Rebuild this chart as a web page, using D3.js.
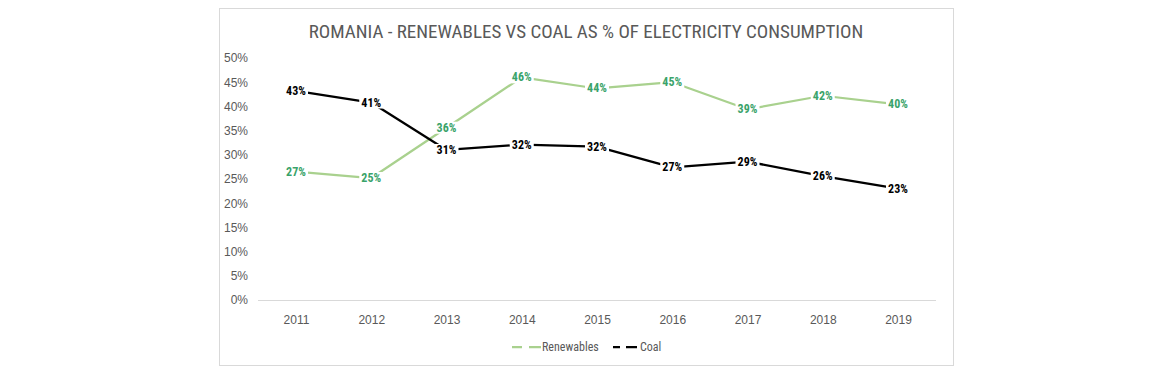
<!DOCTYPE html>
<html><head><meta charset="utf-8">
<script src="https://cdn.jsdelivr.net/npm/d3@7/dist/d3.min.js"></script>
<style>
html,body{margin:0;padding:0;background:#fff;}
svg{display:block;font-family:"Liberation Sans Narrow","Roboto Condensed","Arial Narrow","Liberation Sans",sans-serif;}
</style></head>
<body><svg id="c" width="1166" height="389"></svg>
<script>
const years = ["2011","2012","2013","2014","2015","2016","2017","2018","2019"];
const renewables = [26.5, 25.2, 35.6, 46.0, 43.7, 45.0, 39.4, 42.2, 40.4];
const coal = [43.2, 40.8, 31.0, 32.1, 31.7, 27.4, 28.6, 25.6, 23.0];
const yTicks = [0,5,10,15,20,25,30,35,40,45,50];
const title = "ROMANIA - RENEWABLES VS COAL AS % OF ELECTRICITY CONSUMPTION";
const seriesNames = ["Renewables","Coal"];

const svg = d3.select("#c");
const greenLine = "#A9D18E", greenText = "#3AA36A", gray = "#595959";

svg.append("rect").attr("x",219.5).attr("y",8.5).attr("width",734).attr("height",357)
  .attr("fill","#fff").attr("stroke","#d9d9d9");

svg.append("text").attr("x",586).attr("y",38).attr("text-anchor","middle")
  .attr("font-size",19).attr("fill",gray).text(title);

const x = d3.scalePoint().domain(years).range([296,898]);
const y = d3.scaleLinear().domain([0,50]).range([300,58]);

svg.append("line").attr("x1",258).attr("x2",936).attr("y1",y(0)+0.5).attr("y2",y(0)+0.5)
  .attr("stroke","#d9d9d9");

const yAxis = d3.axisLeft(y).tickValues(yTicks).tickFormat(d=>d+"%").tickSize(0).tickPadding(0);
const gy = svg.append("g").attr("transform","translate(248,0)").call(yAxis);
gy.select(".domain").remove();
gy.selectAll("text").attr("font-size",12).attr("fill",gray).attr("font-family","inherit");

const xAxis = d3.axisBottom(x).tickSize(0).tickPadding(0);
const gx = svg.append("g").attr("transform","translate(0,315)").call(xAxis);
gx.select(".domain").remove();
gx.selectAll("text").attr("font-size",12).attr("fill",gray).attr("font-family","inherit");

const line = d3.line().x((d,i)=>x(years[i])).y(d=>y(d));
const series = [
  {name:seriesNames[0], vals:renewables, color:greenLine, tcolor:greenText},
  {name:seriesNames[1], vals:coal, color:"#000", tcolor:"#000"}
];
series.forEach(s=>{
  svg.append("path").datum(s.vals).attr("d",line).attr("fill","none")
    .attr("stroke",s.color).attr("stroke-width",2.25).attr("stroke-linejoin","round");
});
series.forEach(s=>{
  const g = svg.append("g");
  s.vals.forEach((v,i)=>{
    const lbl = Math.round(v)+"%";
    const cx = x(years[i]), cy = y(v);
    g.append("rect").attr("x",cx-12).attr("y",cy-6).attr("width",24).attr("height",12).attr("fill","#fff");
    g.append("text").attr("x",cx).attr("y",cy+4).attr("text-anchor","middle")
      .attr("font-size",12).attr("font-weight","bold").attr("fill",s.tcolor).text(lbl);
  });
});

const leg = svg.append("g");
const legItems = [{x:512, end:541, tx:542, s:series[0]},{x:613, end:637, tx:640, s:series[1]}];
legItems.forEach(it=>{
  leg.append("line").attr("x1",it.x).attr("x2",it.end).attr("y1",347).attr("y2",347)
    .attr("stroke",it.s.color).attr("stroke-width",2.25)
    .attr("stroke-dasharray", it.s.name==="Coal" ? "7,6,11" : "10,7,12");
  leg.append("text").attr("x",it.tx).attr("y",351).attr("font-size",12).attr("fill",gray).text(it.s.name);
});
</script></body></html>
